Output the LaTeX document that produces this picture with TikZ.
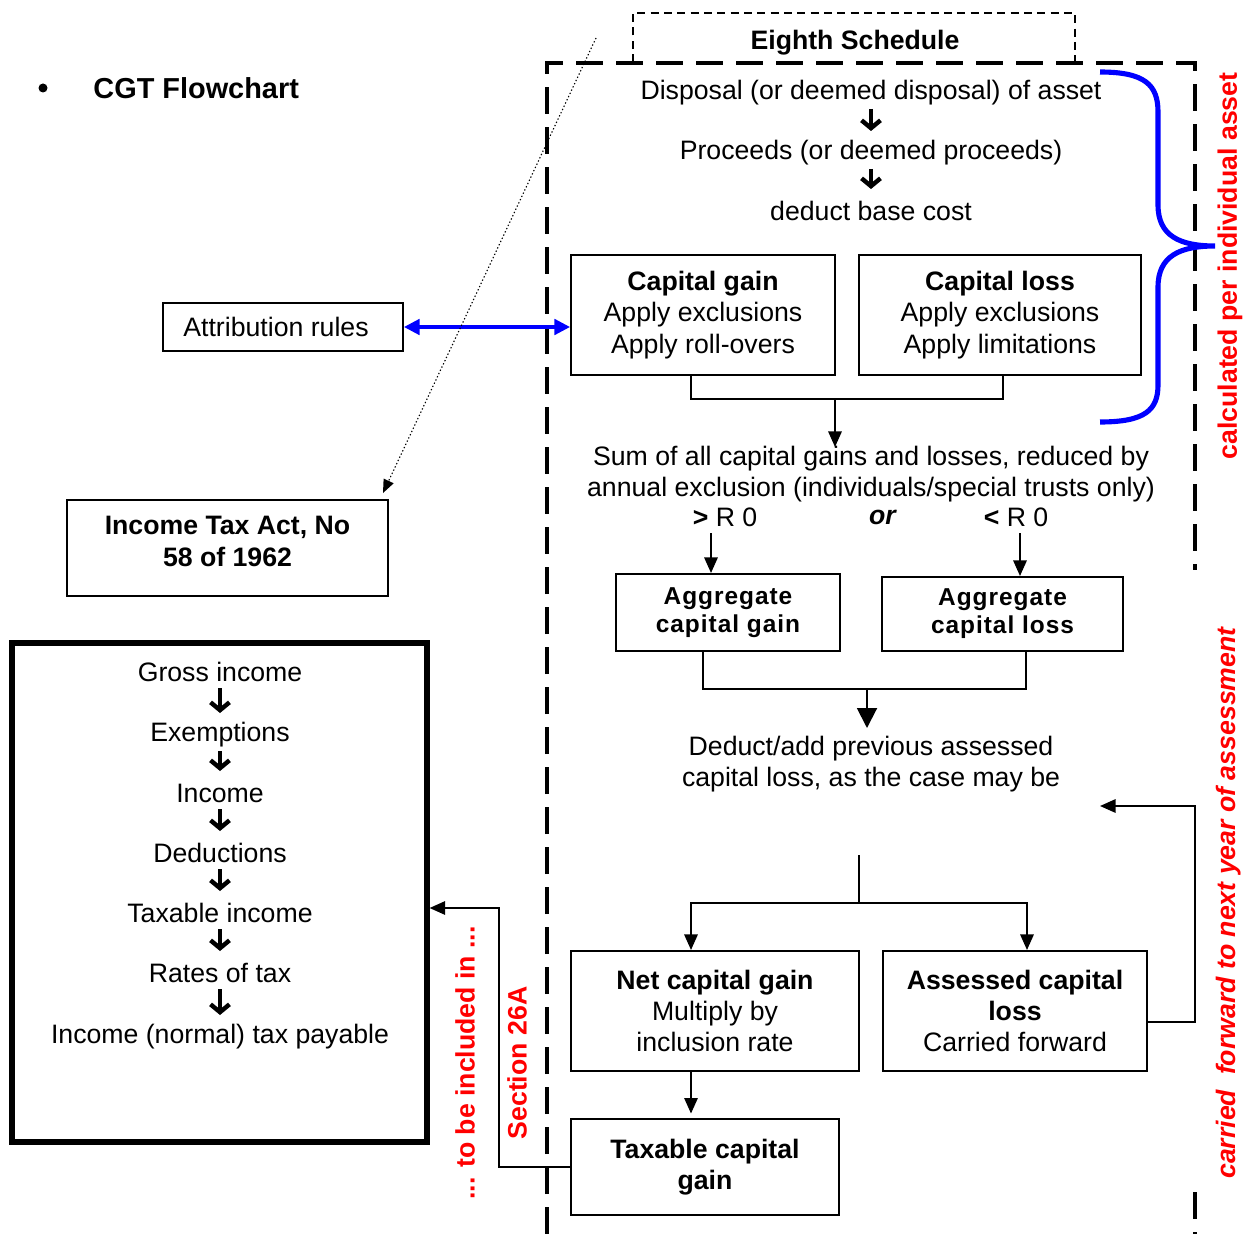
\documentclass[tikz,border=0pt]{standalone}
\usepackage{fontspec}
\setmainfont{Liberation Sans}
\usetikzlibrary{arrows.meta}
\newcommand\myfs{\fontsize{12}{14}\selectfont}
\def\pxu{0.45pt}
\begin{document}
\begin{tikzpicture}[x=0.45pt,y=-0.45pt,
  box/.style={draw, line width=0.9pt, inner sep=0pt, align=center, font=\myfs},
  txt/.style={inner sep=0pt, align=center, font=\myfs},
  dsc/.style={yshift=-1.35pt},
  conn/.style={line width=0.9pt},
  arr/.style={conn, -{Triangle[length=7pt,width=6pt]}},
  bigarr/.style={conn, -{Triangle[length=9pt,width=9pt]}},
  fat/.style={line width=2pt, -{Straight Barb[length=3.5pt,width=8.5pt]}, shorten <=16*\pxu, shorten >=22*\pxu},
  bigdash/.style={line width=1.6pt, dash pattern=on 12pt off 6pt},
  thindash/.style={line width=0.7pt, dash pattern=on 3.6pt off 2.4pt},
  redtxt/.style={text=red, font=\myfs\bfseries, rotate=90, inner sep=0pt},
  aggfont/.style={font=\fontsize{11}{12.5}\selectfont\bfseries\addfontfeature{LetterSpace=4}}
]
\useasboundingbox (0,0) rectangle (1258,1234);

% title
\node[circle, fill, inner sep=0pt, minimum size=9*\pxu] (bul) at (43,88) {};
\node[font=\fontsize{13}{15}\selectfont\bfseries, anchor=west, inner sep=0pt] (title) at (93,88) {CGT Flowchart};

% frames
\draw[bigdash] (547,1234) -- (547,63) -- (1195,63) -- (1195,570);
\draw[bigdash] (1195,1192) -- (1195,1234);
\draw[thindash] (633,62) -- (633,13) -- (1075,13) -- (1075,62);
\node[txt, dsc, font=\myfs\bfseries] (eighth) at (855,40) {Eighth Schedule};

% top chain
\node[txt, dsc] (disp) at (871,90) {Disposal (or deemed disposal) of asset};
\node[txt, dsc] (proc) at (871,150) {Proceeds (or deemed proceeds)};
\node[txt] (base) at (871,211) {deduct base cost};
\draw[fat] (disp.center) -- (proc.center);
\draw[fat] (proc.center) -- (base.center);

% capital gain / loss
\node[box, minimum width=264*\pxu, minimum height=120*\pxu] (cg) at (703,315)
  {\textbf{Capital gain}\\Apply exclusions\\Apply roll-overs};
\node[box, minimum width=282*\pxu, minimum height=120*\pxu] (cl) at (1000,315)
  {\textbf{Capital loss}\\Apply exclusions\\Apply limitations};

\coordinate (bar1) at (835,399);
\coordinate (sumtop) at (835,447);
\draw[conn] ([xshift=-12*\pxu]cg.south) |- (bar1) -| ([xshift=3*\pxu]cl.south);
\draw[arr] (bar1) -- (sumtop);

\node[txt, dsc] (sum) at (871,471.5) {Sum of all capital gains and losses, reduced by\\annual exclusion (individuals/special trusts only)};
\node[txt] (gt) at (725,517) {\textbf{>} R 0};
\node[txt] (or) at (883,517) {\textbf{\textit{or}}};
\node[txt] (lt) at (1016,517) {\textbf{<} R 0};

\node[box, minimum width=224*\pxu, minimum height=77*\pxu, aggfont] (agg) at (728,612.5)
  {Aggregate\\capital gain};
\node[box, minimum width=241*\pxu, minimum height=74*\pxu, aggfont] (agl) at (1002.5,614)
  {Aggregate\\capital loss};

\coordinate (gtb) at (711,533);
\coordinate (ltb) at (1020,533);
\draw[arr] (gtb) -- (gtb |- agg.north);
\draw[arr] (ltb) -- (ltb |- agl.north);

\coordinate (bar2) at (867,689);
\coordinate (dedtop) at (867,728);
\draw[conn] ([xshift=-25*\pxu]agg.south) |- (bar2) -| ([xshift=23.5*\pxu]agl.south);
\draw[bigarr] (bar2) -- (dedtop);

\node[txt, dsc] (ded) at (871,761) {Deduct/add previous assessed\\capital loss, as the case may be};

% split
\coordinate (splittop) at (859,855);
\coordinate (split) at (859,903);
\node[box, minimum width=288*\pxu, minimum height=120*\pxu] (ncg) at (715,1011)
  {\textbf{Net capital gain}\\Multiply by\\inclusion rate};
\node[box, minimum width=264*\pxu, minimum height=120*\pxu] (acl) at (1015,1011)
  {\textbf{Assessed capital}\\\textbf{loss}\\Carried forward};
\draw[conn] (splittop) -- (split);
\draw[arr] (split) -| ([xshift=-24*\pxu]ncg.north);
\draw[arr] (split) -| ([xshift=12*\pxu]acl.north);

\node[box, minimum width=268*\pxu, minimum height=96*\pxu, font=\myfs\bfseries] (tcg) at (705,1167)
  {Taxable capital\\gain};
\draw[arr] ([xshift=-24*\pxu]ncg.south) -- ([xshift=-14*\pxu,yshift=2pt]tcg.north);

% feedback
\coordinate (fbc) at (1195,806);
\coordinate (fbend) at (1100,806);
\draw[arr] ([yshift=-11*\pxu]acl.east) -| (fbc) -- (fbend);

% attribution
\node[box, minimum width=240*\pxu, minimum height=48*\pxu] (attr) at (283,327) {Attribution rules\hspace{6.3pt}};
\draw[line width=1.4pt, blue, {Triangle[length=7pt,width=7pt]}-{Triangle[length=7pt,width=7pt]}]
  ([yshift=-12*\pxu]cg.west -| attr.east) -- ([yshift=-12*\pxu]cg.west);

% income tax act
\node[box, minimum width=321*\pxu, minimum height=96*\pxu] (ita) at (227.5,548) {};
\node[txt, font=\myfs\bfseries] (itat) at (227.5,541.5) {Income Tax Act, No\\58 of 1962};
\coordinate (dotst) at (596,38);
\coordinate (dotend) at (383,493);
\draw[line width=0.5pt, dash pattern=on 0.6pt off 1pt, -{Triangle[length=6pt,width=5pt,line width=0pt]}] (dotst) -- (dotend);

% left box
\node[draw, line width=2.3pt, minimum width=415*\pxu, minimum height=499*\pxu, inner sep=0pt] (lbox) at (219.5,892.5) {};
\node[txt] (gi) at (220,672) {Gross income};
\node[txt, dsc] (ex) at (220,732) {Exemptions};
\node[txt] (inc) at (220,793) {Income};
\node[txt] (dedn) at (220,853) {Deductions};
\node[txt] (ti) at (220,913) {Taxable income};
\node[txt] (rt) at (220,973) {Rates of tax};
\node[txt, dsc] (pay) at (220,1034) {Income (normal) tax payable};
\draw[fat] (gi.center) -- (ex.center);
\draw[fat] (ex.center) -- (inc.center);
\draw[fat] (inc.center) -- (dedn.center);
\draw[fat] (dedn.center) -- (ti.center);
\draw[fat] (ti.center) -- (rt.center);
\draw[fat] (rt.center) -- (pay.center);

% section 26A connector
\coordinate (sbend) at (499,908);
\draw[arr] (tcg.west) -| (sbend) -- (sbend -| lbox.east);

% brace
\draw[blue, line width=2.3pt] (1100,72) .. controls (1145,72) and (1158,85) .. (1158,112)
  -- (1158,205) .. controls (1158,236) and (1180,246) .. (1215,246)
  .. controls (1180,246) and (1158,256) .. (1158,287)
  -- (1158,385) .. controls (1158,410) and (1145,422) .. (1100,422);

% red labels
\node[redtxt] (calc) at (1230,266) {calculated per individual asset};
\node[redtxt, font=\myfs\bfseries\itshape] (carr) at (1229,903) {carried\ \ forward to next year of assessment};
\node[redtxt] (s26) at (517,1063) {Section 26A};
\node[redtxt] (incl) at (465,1063) {... to be included in ...};
\end{tikzpicture}
\end{document}
